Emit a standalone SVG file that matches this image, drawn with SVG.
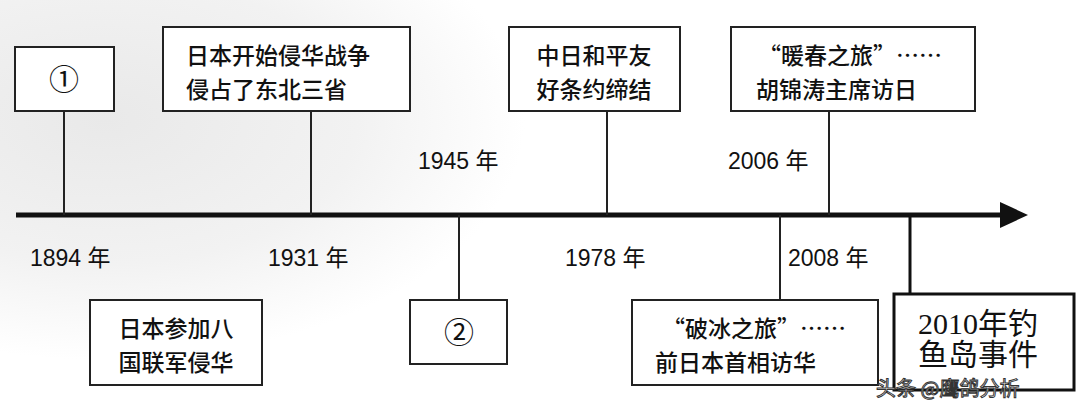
<svg xmlns="http://www.w3.org/2000/svg" width="1088" height="402" viewBox="0 0 1088 402">
<defs>
<radialGradient id="bg" cx="0.15" cy="0.3" r="0.6"><stop offset="0" stop-color="#e9e9e9"/><stop offset="0.6" stop-color="#f2f2f2"/><stop offset="1" stop-color="#ffffff"/></radialGradient>
</defs>
<style>
.box{fill:#fff;stroke:#222;stroke-width:2}
.ln{stroke:#222;stroke-width:2;fill:none}
.t{font-family:"Noto Sans CJK SC","Liberation Sans",sans-serif;font-size:23px;font-weight:500;fill:#111}
.y{font-family:"Liberation Sans","Noto Sans CJK SC",sans-serif;font-size:23px;fill:#111}
.s{font-family:"Liberation Serif","Noto Sans CJK SC",serif;font-size:30px;fill:#111}
.c{font-family:"Noto Sans CJK SC",sans-serif;font-size:30px;fill:#111}
</style>
<rect width="1088" height="402" fill="#fff"/>
<rect x="0" y="0" width="700" height="400" fill="url(#bg)"/>
<g id="connectors">
<line x1="16" y1="215" x2="1002" y2="215" stroke="#111" stroke-width="5"/>
<polygon points="1000,202 1028,215 1000,228" fill="#111"/>
<line class="ln" x1="64" y1="111" x2="64" y2="215"/>
<line class="ln" x1="311" y1="111" x2="311" y2="215"/>
<line class="ln" x1="607" y1="111" x2="607" y2="215"/>
<line class="ln" x1="829" y1="111" x2="829" y2="215"/>
<line class="ln" x1="459" y1="215" x2="459" y2="300"/>
<line class="ln" x1="780" y1="215" x2="780" y2="300"/>
<line x1="910" y1="215" x2="910" y2="293" stroke="#111" stroke-width="3"/>
</g>
<g id="n1"><rect class="box" x="15" y="47" width="99" height="64"/><text class="c" x="64" y="90" text-anchor="middle">①</text></g>
<g id="n1931"><rect class="box" x="163" y="27" width="247" height="84"/><text class="t" x="186" y="64">日本开始侵华战争</text><text class="t" x="186" y="98">侵占了东北三省</text></g>
<g id="n1978"><rect class="box" x="509" y="27" width="171" height="84"/><text class="t" x="594" y="64" text-anchor="middle">中日和平友</text><text class="t" x="594" y="98" text-anchor="middle">好条约缔结</text></g>
<g id="n2006"><rect class="box" x="731" y="27" width="244" height="84"/><text class="t" x="758" y="64">“暖春之旅”……</text><text class="t" x="756" y="98">胡锦涛主席访日</text></g>
<g id="n1894"><rect class="box" x="90" y="300" width="172" height="85"/><text class="t" x="176" y="337" text-anchor="middle">日本参加八</text><text class="t" x="176" y="371" text-anchor="middle">国联军侵华</text></g>
<g id="n2"><rect class="box" x="410" y="300" width="97" height="64"/><text class="c" x="459" y="343" text-anchor="middle">②</text></g>
<g id="n2008"><rect class="box" x="632" y="300" width="246" height="85"/><text class="t" x="662" y="337">“破冰之旅”……</text><text class="t" x="655" y="371">前日本首相访华</text></g>
<g id="n2010"><rect x="894" y="294" width="180" height="96" fill="#fff" stroke="#111" stroke-width="3"/><text class="s" x="978" y="334" text-anchor="middle">2010年钓</text><text class="s" x="978" y="365" text-anchor="middle">鱼岛事件</text></g>
<g id="years">
<text class="y" x="30" y="266">1894 年</text>
<text class="y" x="268" y="266">1931 年</text>
<text class="y" x="418" y="169">1945 年</text>
<text class="y" x="565" y="266">1978 年</text>
<text class="y" x="728" y="169">2006 年</text>
<text class="y" x="788" y="266">2008 年</text>
</g>
<text x="876" y="396" font-family="Noto Sans CJK SC,sans-serif" font-size="20" fill="#fff" stroke="#333" stroke-width="1">头条 @鹰鸽分析</text>
</svg>
